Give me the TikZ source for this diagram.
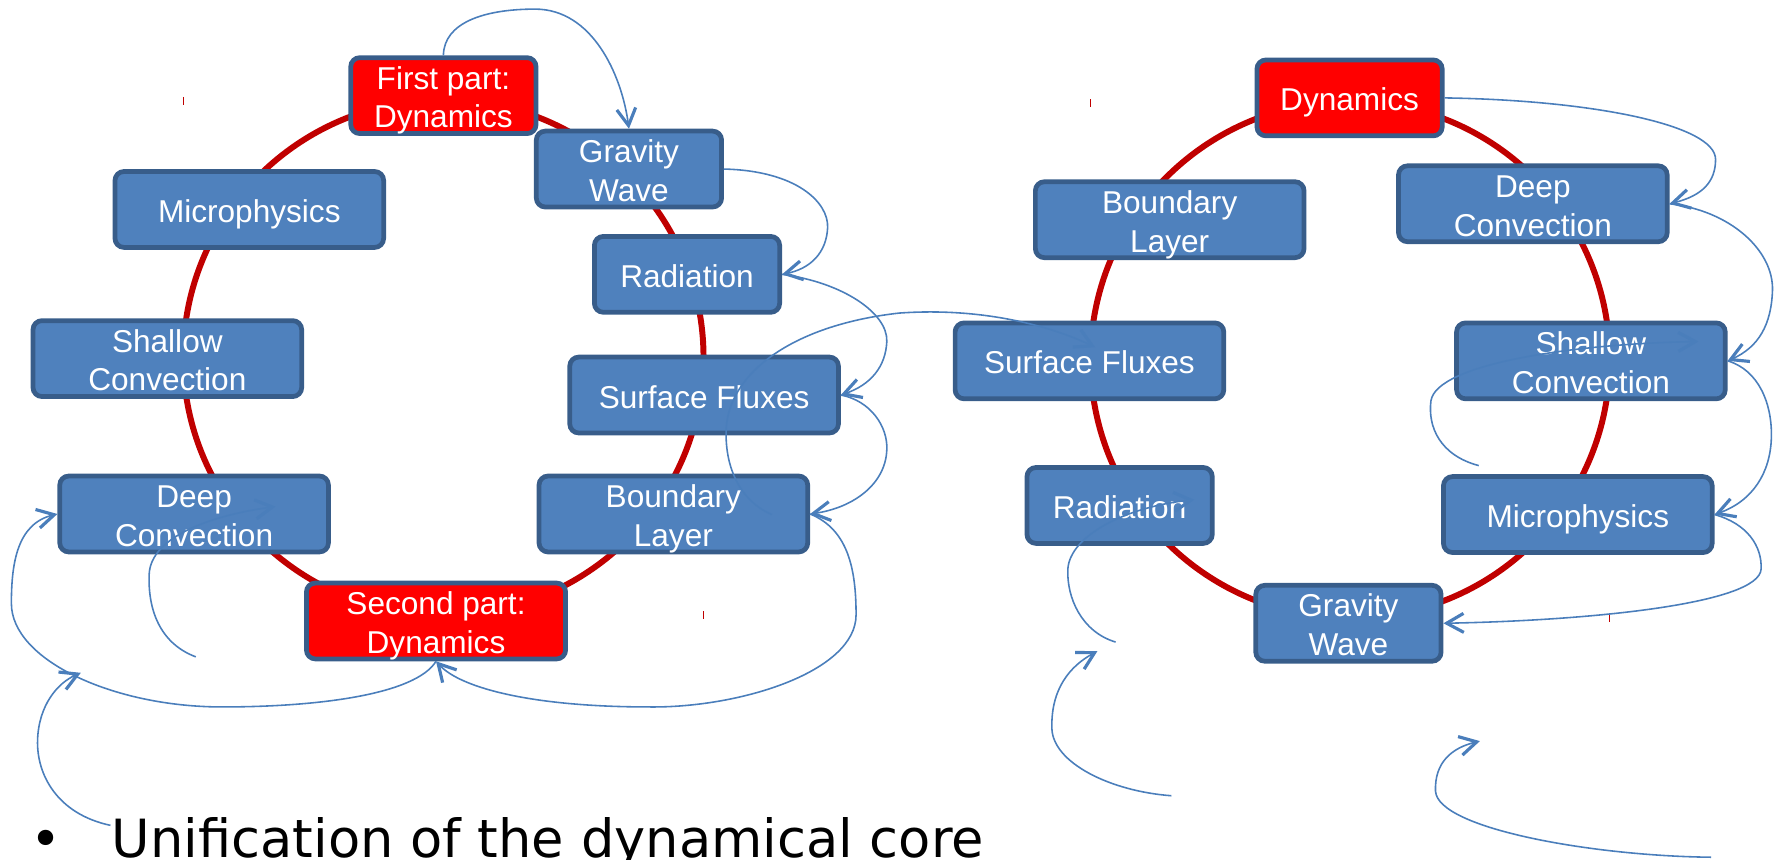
\documentclass[tikz,border=0pt]{standalone}
\usepackage{fontspec}
\setmainfont{Liberation Sans}
\newfontfamily\slideFont{DejaVu Sans}
\usepackage{tikz}
\usetikzlibrary{calc}
\usetikzlibrary{arrows.meta}
\definecolor{boxBlue}{HTML}{4F81BD}
\definecolor{boxEdge}{HTML}{385D8A}
\definecolor{linkBlue}{HTML}{4A7EBB}
\definecolor{cycleRed}{HTML}{C00000}
% box text, set a little lower than the centre
\newcommand{\boxLines}[1]{\raisebox{0pt}[\height][\dimexpr\depth-6pt\relax]{\begin{tabular}{@{}c@{}}#1\end{tabular}}}

\begin{document}
\begin{tikzpicture}[x=0.0228cm, y=-0.0228cm,
	module/.style={draw=boxEdge, fill=boxBlue, line width=2.7pt, rounded corners=0.18cm, text=white, font=\fontsize{18}{22}\selectfont, minimum height=1.52cm, inner sep=0pt},
	shortbox/.style={module, minimum width=3.71cm},
	longbox/.style={module, minimum width=5.38cm},
	dynbox/.style={fill=red},
	link/.style={linkBlue, line width=0.9pt, -{Straight Barb[length=0.34cm, width=0.38cm, line width=1.8pt]}}
	]

	\useasboundingbox (0,0) rectangle (1568,755);

	% the two cycles
	\def \cycleWidth {3.4pt};
	\coordinate (leftCentre) at (389.5,314);
	\coordinate (rightCentre) at (1186,316);
	\draw [cycleRed, line width = \cycleWidth] (leftCentre) ellipse [x radius = 228.5, y radius = 226.5];
	\draw [cycleRed, line width = \cycleWidth] (rightCentre) ellipse [x radius = 228, y radius = 227];

	%% small marks at the corners of the cycles
	\draw [cycleRed, line width = 0.4pt] (161,85) -- (161,92);
	\draw [cycleRed, line width = 0.4pt] (618,537) -- (618,544);
	\draw [cycleRed, line width = 0.4pt] (958,87) -- (958,94);
	\draw [cycleRed, line width = 0.4pt] (1414,539) -- (1414,546);

	% first cycle
	\node [shortbox, dynbox] (firstDyn) at (389.5,84) {\boxLines{First part:\\Dynamics}};
	\node [shortbox] (gravityL) at (552.5,148.5) {\boxLines{Gravity\\Wave}};
	\node [longbox] (microL) at (219,184) {\boxLines{Microphysics}};
	\node [shortbox] (radiationL) at (603.5,241) {\boxLines{Radiation}};
	\node [longbox] (shallowL) at (147,315) {\boxLines{Shallow\\Convection}};
	\node [longbox] (surfaceL) at (618.5,347) {\boxLines{Surface Fluxes}};
	\node [longbox] (deepL) at (170.5,451.5) {\boxLines{Deep\\Convection}};
	\node [longbox] (boundaryL) at (591.5,451.5) {\boxLines{Boundary\\Layer}};
	\node [module, dynbox, minimum width = 5.19cm] (secondDyn) at (383,545.5) {\boxLines{Second part:\\Dynamics}};

	% second cycle
	\node [shortbox, dynbox] (dynR) at (1185.5,86) {\boxLines{Dynamics}};
	\node [longbox] (boundaryR) at (1027.5,193) {\boxLines{Boundary\\Layer}};
	\node [longbox] (deepR) at (1346.5,179) {\boxLines{Deep\\Convection}};
	\node [longbox] (surfaceR) at (957,317) {\boxLines{Surface Fluxes}};
	\node [longbox] (shallowR) at (1397.5,317) {\boxLines{Shallow\\Convection}};
	\node [shortbox] (radiationR) at (983.5,444) {\boxLines{Radiation}};
	\node [longbox] (microR) at (1386,452) {\boxLines{Microphysics}};
	\node [shortbox] (gravityR) at (1184.5,547.5) {\boxLines{Gravity\\Wave}};

	% links of the first cycle
	\draw [link] (firstDyn.north) .. controls (390,20) and (425,8) .. (470,8) .. controls (520,8) and (546,65) .. (gravityL.north);
	\draw [link] (gravityL.east) .. controls (700,150) and (728,178) .. (727,200) .. controls (726,222) and (712,236) .. (radiationL.east);
	\draw [link] (radiationL.east) .. controls (740,248) and (780,275) .. (779,300) .. controls (778,322) and (765,338) .. (surfaceL.east);
	\draw [link] (surfaceL.east) .. controls (765,352) and (780,375) .. (779,395) .. controls (778,425) and (750,446) .. (boundaryL.east);
	\draw [link] (boundaryL.east) .. controls (745,465) and (752,500) .. (752,540) .. controls (752,590) and (650,622) .. (570,621) .. controls (470,621) and (405,605) .. (secondDyn.south);
	\draw [link] (secondDyn.south) .. controls (365,610) and (280,621) .. (195,621) .. controls (100,621) and (10,580) .. (10,530) .. controls (10,495) and (15,460) .. (deepL.west);

	%% loose arrows of the first cycle
	\coordinate (stubA) at (97,725);
	\coordinate (stubATip) at (71,591);
	\draw [link] (stubA) .. controls (50,715) and (32,680) .. (33,650) .. controls (34,620) and (50,600) .. (stubATip);
	\coordinate (stubB) at (172,577);
	\coordinate (stubBTip) at (242,445);
	\draw [link] (stubB) .. controls (140,565) and (130,535) .. (131,505) .. controls (132,470) and (190,452) .. (stubBTip);

	% link from one cycle to the other
	\coordinate (crossStart) at (678,452);
	\coordinate (crossTip) at (962,305);
	\draw [link] (crossStart) .. controls (650,440) and (636,410) .. (638,375) .. controls (642,325) and (700,285) .. (790,275) .. controls (860,270) and (920,285) .. (crossTip);

	% links of the second cycle
	\draw [link] (dynR.east) .. controls (1400,88) and (1507,110) .. (1507,140) .. controls (1507,160) and (1495,172) .. (deepR.east);
	\draw [link] (deepR.east) .. controls (1520,185) and (1558,220) .. (1557,255) .. controls (1556,285) and (1545,305) .. (shallowR.east);
	\draw [link] (shallowR.east) .. controls (1545,325) and (1557,355) .. (1556,385) .. controls (1555,415) and (1540,440) .. (microR.east);
	\draw [link] (microR.east) .. controls (1535,460) and (1548,480) .. (1547,500) .. controls (1545,530) and (1400,545) .. (gravityR.east);

	%% loose arrows of the second cycle
	\coordinate (stubC) at (1299,409);
	\coordinate (stubCTip) at (1492,300);
	\draw [link] (stubC) .. controls (1265,400) and (1254,375) .. (1257,352) .. controls (1262,320) and (1380,302) .. (stubCTip);
	\coordinate (stubD) at (980,564);
	\coordinate (stubDTip) at (1049,439);
	\draw [link] (stubD) .. controls (950,555) and (937,525) .. (938,500) .. controls (940,470) and (990,445) .. (stubDTip);
	\coordinate (stubE) at (1029,699);
	\coordinate (stubETip) at (964,572);
	\draw [link] (stubE) .. controls (975,695) and (925,670) .. (924,640) .. controls (923,605) and (940,585) .. (stubETip);
	\coordinate (stubF) at (1503,753);
	\coordinate (stubFTip) at (1300,651);
	\draw [link] (stubF) .. controls (1400,752) and (1263,728) .. (1261,695) .. controls (1260,670) and (1275,657) .. (stubFTip);

	% bullet line
	\node [anchor = base, inner sep = 0pt, font = \slideFont\fontsize{30}{36}\selectfont] (bulletMark) at (40,753) {•};
	\node [anchor = base west, inner sep = 0pt, font = \slideFont\fontsize{30}{36}\selectfont] (unification) at (98,753) {Unification of the dynamical core};

\end{tikzpicture}
\end{document}
